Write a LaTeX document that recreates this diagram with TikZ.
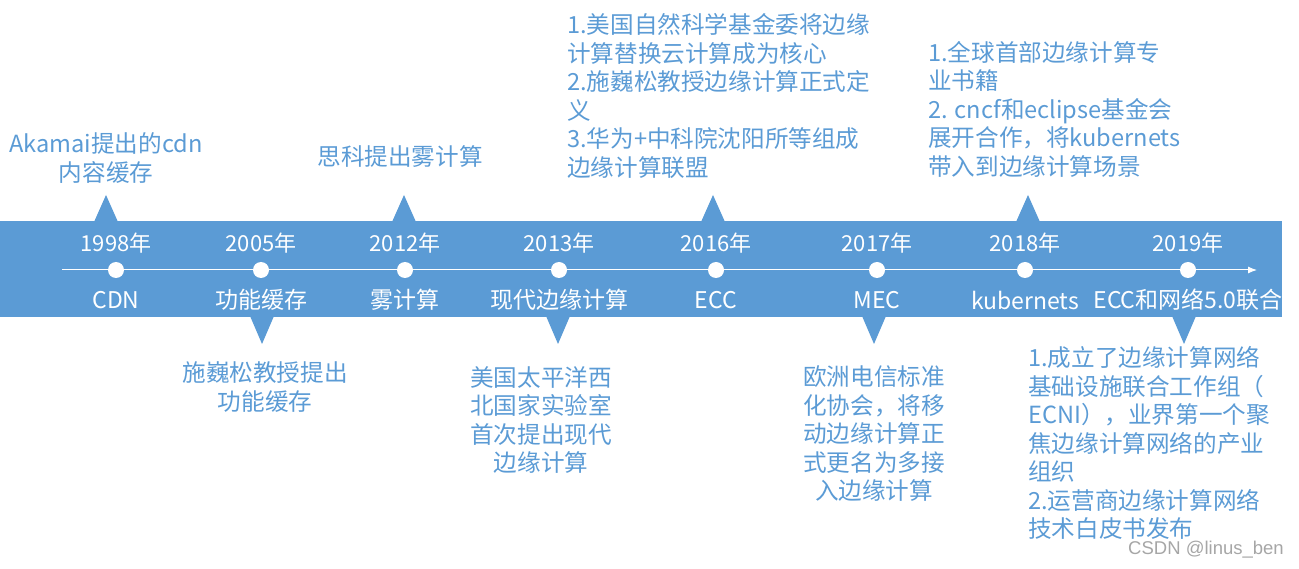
\documentclass[tikz,border=0pt]{standalone}
\usepackage{fontspec}
\setmainfont{Noto Sans CJK SC}
\newfontfamily\wmfont{Liberation Sans}
\usetikzlibrary{arrows.meta}
\definecolor{bandblue}{RGB}{91,155,213}
\definecolor{noteblue}{RGB}{91,155,213}
\begin{document}
\begin{tikzpicture}[x=1pt, y=-1pt,
    dot/.style={circle, fill=white, inner sep=0pt, minimum size=16pt},
    yearlabel/.style={text=white, font=\fontsize{22}{26}\selectfont},
    bandlabel/.style={text=white, font=\fontsize{23}{27}\selectfont},
    note/.style={text=noteblue, font=\fontsize{23.6}{28.5}\selectfont, inner sep=0pt},
    pointer/.style={fill=bandblue}]
    \useasboundingbox (0,0) rectangle (1299,569);

    % band and time axis
    \fill[bandblue] (0,221) rectangle (1282,317);
    \coordinate (axis_start) at (62,270);
    \coordinate (axis_end) at (1257,270);
    \draw[white, line width=1pt, -{Latex[length=9pt,width=7pt]}] (axis_start) -- (axis_end);

    \foreach \x/\yr/\lbl/\nm in {116/1998/CDN/a, 261/2005/功能缓存/b, 405/2012/雾计算/c,
        559/2013/现代边缘计算/d, 716/2016/ECC/e, 877/2017/MEC/f,
        1025/2018/kubernets/g, 1188/2019/ECC和网络5.0联合/h} {
        \node (dot_\nm) at (\x,270) [dot] {};
        \node (year_\nm) at (\x,243) [yearlabel] {\yr 年};
        \node (lbl_\nm) at (\x,300) [bandlabel] {\lbl};
    }

    % pointers above and below the band
    \foreach \x in {106,404,713,1028} {
        \fill[pointer] (\x-12,222) -- (\x,195) -- (\x+12,222) -- cycle;
    }
    \foreach \x in {262,558,874,1184} {
        \fill[pointer] (\x-12,316) -- (\x,344) -- (\x+12,316) -- cycle;
    }

    % notes above
    \node (note_a) at (106,158) [note, align=center] {Akamai提出的cdn\\内容缓存};
    \node (note_c) at (400,157) [note, align=center] {思科提出雾计算};
    \node (note_e) at (567,96) [note, anchor=west, align=left] {1.美国自然科学基金委将边缘\\计算替换云计算成为核心\\2.施巍松教授边缘计算正式定\\义\\3.华为+中科院沈阳所等组成\\边缘计算联盟};
    \node (note_g) at (928,109) [note, anchor=west, align=left] {1.全球首部边缘计算专\\业书籍\\2. cncf和eclipse基金会\\展开合作，将kubernets\\带入到边缘计算场景};

    % notes below
    \node (note_b) at (265,387) [note, align=center] {施巍松教授提出\\功能缓存};
    \node (note_d) at (541,420) [note, align=center] {美国太平洋西\\北国家实验室\\首次提出现代\\边缘计算};
    \node (note_f) at (874,434) [note, align=center] {欧洲电信标准\\化协会，将移\\动边缘计算正\\式更名为多接\\入边缘计算};
    \node (note_h) at (1028,443) [note, anchor=west, align=left] {1.成立了边缘计算网络\\基础设施联合工作组（\\ECNI），业界第一个聚\\焦边缘计算网络的产业\\组织\\2.运营商边缘计算网络\\技术白皮书发布};

    \node (mark) at (1206,550) [text=gray!70, font=\wmfont\fontsize{18.5}{20}\selectfont] {CSDN @linus\_ben};
\end{tikzpicture}
\end{document}
